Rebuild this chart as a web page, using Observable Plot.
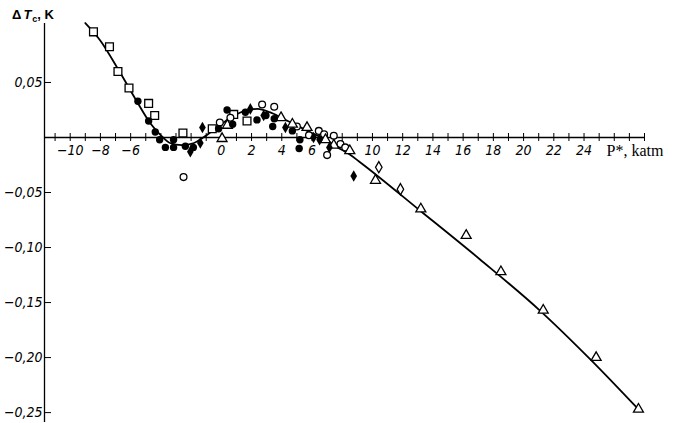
<!DOCTYPE html>
<html><head><meta charset="utf-8">
<script src="https://cdn.jsdelivr.net/npm/d3@7"></script>
<script src="https://cdn.jsdelivr.net/npm/@observablehq/plot@0.6"></script>
<style>body{margin:0;background:#fff} #chart{width:681px;height:423px}</style>
</head><body><div id="chart"></div>
<script>
// Fitted curve (P*, katm ; ΔTc, K)
const curve = [[-9.0,0.104],[-8.0,0.088],[-6.7,0.059],[-5.6,0.033],[-4.7,0.013],[-4.0,0.002],[-3.4,-0.005],[-2.6,-0.007],[-1.8,-0.005],[-1.2,0.0],[-0.3,0.009],[0.6,0.018],[1.5,0.024],[2.4,0.026],[3.2,0.023],[4.1,0.017],[5.0,0.011],[5.9,0.0045],[6.8,-0.001],[7.7,-0.009],[8.5,-0.0155],[9.2,-0.0227],[13.2,-0.067],[17.1,-0.1106],[21.1,-0.1575],[24.4,-0.2014],[27.7,-0.2485]];
const openSquares = [[-8.46,0.096],[-7.4,0.0825],[-6.84,0.060],[-6.11,0.045],[-4.81,0.031],[-4.41,0.020],[-2.54,0.004],[-0.6,0.008],[0.82,0.021],[1.7,0.015]];
const filledCircles = [[-5.52,0.033],[-4.81,0.015],[-4.37,0.005],[-4.08,-0.002],[-3.7,-0.009],[-3.16,-0.009],[-3.16,-0.002],[-2.38,-0.008],[-1.85,-0.009],[-0.18,0.008],[0.38,0.025],[0.75,0.012],[1.59,0.023],[2.36,0.016],[2.95,0.020],[3.4,0.010],[3.5,0.017],[4.7,0.006],[5.2,-0.002],[5.15,-0.010]];
const filledDiamonds = [[-2.05,-0.013],[-1.39,-0.005],[-1.25,0.009],[1.92,0.026],[2.8,0.020],[4.24,0.009],[6.1,0.0],[6.5,-0.002],[7.15,-0.009],[8.76,-0.035]];
const openCircles = [[-2.5,-0.036],[-0.1,0.0136],[0.6,0.018],[2.7,0.030],[3.5,0.028],[5.0,0.010],[5.8,0.002],[6.45,0.006],[6.8,0.003],[7.0,-0.016],[7.44,0.0015],[7.88,-0.006],[8.2,-0.009]];
const openTriangles = [[0.05,-0.001],[0.4,0.011],[3.95,0.018],[4.7,0.012],[5.67,0.009],[6.89,-0.002],[7.44,-0.007],[8.5,-0.012],[10.2,-0.039],[13.2,-0.065],[16.2,-0.089],[18.5,-0.122],[21.3,-0.157],[24.8,-0.200],[27.6,-0.247]];
const openDiamonds = [[10.42,-0.027],[11.85,-0.047]];

const xDomain = [-11.7, 28];
const yDomain = [-0.259, 0.1036];
const xMinorTicks = d3.range(-11, 29);
const xTickLabels = [-10,-8,-6,0,2,4,6,10,12,14,16,18,20,22,24];
const yTickLabels = [0.05,-0.05,-0.10,-0.15,-0.20,-0.25];
const xAxisLabel = "P*, katm";

const minus = "\u2212";
const fmtY = d => (d < 0 ? minus : "") + Math.abs(d).toFixed(2).replace(".", ",");
const fmtX = d => (d < 0 ? minus : "") + Math.abs(d);
const tickFont = "'Liberation Sans Narrow', 'DejaVu Sans Condensed', sans-serif";

const px = d => d[0], py = d => d[1];
const openStyle = {x: px, y: py, fill: "white", stroke: "black", strokeWidth: 1.3};

const chart = Plot.plot({
  width: 681, height: 423,
  marginLeft: 44, marginRight: 37, marginTop: 23, marginBottom: 1,
  style: {background: "white", overflow: "visible"},
  x: {domain: xDomain, axis: null},
  y: {domain: yDomain, axis: null},
  marks: [
    Plot.ruleY([0], {stroke: "black", strokeWidth: 1.3}),
    Plot.ruleX([xDomain[0]], {stroke: "black", strokeWidth: 1.3}),
    Plot.ruleX(xMinorTicks, {x: d => d, y1: () => 0, y2: () => 0, insetTop: -4, insetBottom: -4, stroke: "black", strokeWidth: 1}),
    Plot.ruleY(yTickLabels, {y: d => d, x1: () => xDomain[0], x2: () => xDomain[0], insetRight: -7, stroke: "black", strokeWidth: 1}),
    Plot.text(yTickLabels, {x: () => xDomain[0], y: d => d, text: fmtY, textAnchor: "end", dx: -2, fontFamily: tickFont, fontStyle: "italic", fontSize: 14, fill: "black"}),
    Plot.text(xTickLabels, {x: d => d, y: () => 0, text: fmtX, dy: 13, fontFamily: tickFont, fontStyle: "italic", fontSize: 14, fill: "black"}),
    Plot.text([xAxisLabel], {x: () => xDomain[1], y: () => 0, text: d => d, textAnchor: "end", dx: 19, dy: 13, fontFamily: "'Liberation Serif', serif", fontSize: 16, fill: "black"}),
    Plot.line(curve, {x: px, y: py, curve: "monotone-x", stroke: "black", strokeWidth: 1.8}),
    Plot.dot(openSquares, {...openStyle, symbol: "square", r: 4.4}),
    Plot.dot(openCircles, {...openStyle, symbol: "circle", r: 3.4}),
    Plot.dot(openTriangles, {...openStyle, symbol: "triangle", r: 3.7}),
    Plot.dot(openDiamonds, {...openStyle, symbol: "diamond", r: 3.4}),
    Plot.dot(filledCircles, {x: px, y: py, symbol: "circle", r: 3.7, fill: "black"}),
    Plot.dot(filledDiamonds, {x: px, y: py, symbol: "diamond", r: 3.5, fill: "black"})
  ]
});
document.getElementById("chart").appendChild(chart);

// y-axis title "ΔTc, K"
const svg = d3.select(chart);
const t = svg.append("text").attr("x", 33).attr("y", 19)
  .style("font", "bold 13px 'Liberation Sans', sans-serif").attr("fill", "black");
t.append("tspan").text("\u0394");
t.append("tspan").attr("font-style", "italic").attr("dx", 2).text("T");
t.append("tspan").attr("font-size", "9px").attr("dy", 3).attr("dx", 1).text("c");
t.append("tspan").attr("dy", -3).text(", K");
</script>
</body></html>
